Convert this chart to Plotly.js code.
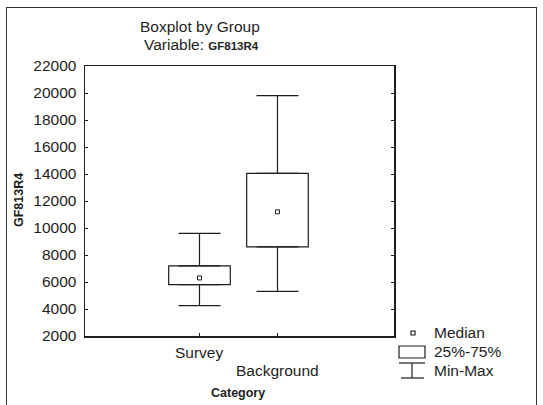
<!DOCTYPE html>
<html>
<head>
<meta charset="utf-8">
<script src="https://cdn.plot.ly/plotly-3.0.1.min.js"></script>
<style>
  html, body { margin: 0; padding: 0; background: #fff; }
  #wrap { position: relative; width: 543px; height: 405px; }
  #chart { position: absolute; left: 0; top: 0; width: 543px; height: 405px; }
  #frame { position: absolute; left: 6px; top: 7px; width: 531px; height: 410px;
           border: 1.5px solid #333; box-sizing: border-box; pointer-events: none; }
</style>
</head>
<body>
<div id="wrap">
  <div id="chart"></div>
  <div id="frame"></div>
</div>
<script>
// ---- data ----
const categories = ["Survey", "Background"];
const minVals    = [4250, 5300];
const q1Vals     = [5800, 8600];
const medianVals = [6300, 11200];
const q3Vals     = [7200, 14050];
const maxVals    = [9600, 19800];
const yTicks     = [2000, 4000, 6000, 8000, 10000, 12000, 14000, 16000, 18000, 20000, 22000];
const legendLabels = ["Median", "25%-75%", "Min-Max"];

// ---- layout geometry ----
const W = 543, H = 405;
const L = 85, R = 394, T = 66, B = 336;
const px2x = p => (p - L) / (R - L);
const py2y = p => (B - p) / (B - T);
const ink = "#1e1e1e";
const font = "Liberation Sans, Arial, sans-serif";
const FS = 15.5;

const xpos = categories.map((c, i) => i);

const traces = [
  { // boxes 25%-75%
    type: "bar", x: xpos,
    base: q1Vals,
    y: q3Vals.map((v, i) => v - q1Vals[i]),
    width: 0.79,
    marker: { color: "#ffffff", line: { color: ink, width: 1.2 } },
    hoverinfo: "skip", showlegend: false
  },
  { // upper whiskers
    type: "scatter", mode: "markers", x: xpos, y: q3Vals,
    marker: { size: 0.1, color: "rgba(0,0,0,0)" },
    error_y: { type: "data", symmetric: false,
      array: maxVals.map((v, i) => v - q3Vals[i]),
      arrayminus: q3Vals.map(() => 0),
      color: ink, thickness: 1.2, width: 21 },
    hoverinfo: "skip", showlegend: false
  },
  { // lower whiskers
    type: "scatter", mode: "markers", x: xpos, y: q1Vals,
    marker: { size: 0.1, color: "rgba(0,0,0,0)" },
    error_y: { type: "data", symmetric: false,
      array: q1Vals.map(() => 0),
      arrayminus: q1Vals.map((v, i) => v - minVals[i]),
      color: ink, thickness: 1.2, width: 21 },
    hoverinfo: "skip", showlegend: false
  },
  { // medians
    type: "scatter", mode: "markers", x: xpos, y: medianVals,
    marker: { symbol: "square-open", size: 4, color: ink, line: { width: 1, color: ink } },
    hoverinfo: "skip", showlegend: false
  }
];

function ann(text, x, y, opts) {
  return Object.assign({ text: text, xref: "paper", yref: "paper", x: x, y: y,
    xanchor: "center", yanchor: "middle", showarrow: false,
    font: { family: font, size: FS, color: ink } }, opts || {});
}

const annotations = [
  ann("Boxplot by Group", px2x(200), py2y(26)),
  ann("Variable: <span style='font-size:11.5px;font-weight:bold'>GF813R4</span>", px2x(201), py2y(44)),
  ann("GF813R4", px2x(19), py2y(200), { textangle: -90,
    font: { family: font, size: 12.5, color: ink, weight: "bold" } }),
  ann("Category", px2x(238), py2y(393), { font: { family: font, size: 12.5, color: ink, weight: "bold" } }),
  // staggered category labels
  ann(categories[0], xpos[0], py2y(352), { xref: "x" }),
  ann(categories[1], xpos[1], py2y(370), { xref: "x" }),
  // legend labels
  ann(legendLabels[0], px2x(432), py2y(332), { xanchor: "left" }),
  ann(legendLabels[1], px2x(432), py2y(351), { xanchor: "left" }),
  ann(legendLabels[2], px2x(432), py2y(370), { xanchor: "left" })
];

const lp = { color: ink, width: 1.2 };
const shapes = [
  // legend: median marker
  { type: "rect", xref: "paper", yref: "paper", x0: px2x(411), x1: px2x(415), y0: py2y(331), y1: py2y(335),
    line: lp, fillcolor: "#fff" },
  // legend: box
  { type: "rect", xref: "paper", yref: "paper", x0: px2x(399), x1: px2x(425), y0: py2y(346), y1: py2y(358),
    line: lp, fillcolor: "#fff" },
  // legend: whisker
  { type: "line", xref: "paper", yref: "paper", x0: px2x(399), x1: px2x(425), y0: py2y(363), y1: py2y(363), line: lp },
  { type: "line", xref: "paper", yref: "paper", x0: px2x(412), x1: px2x(412), y0: py2y(363), y1: py2y(378), line: lp },
  { type: "line", xref: "paper", yref: "paper", x0: px2x(401), x1: px2x(424), y0: py2y(378), y1: py2y(378), line: lp }
];

const layout = {
  width: W, height: H,
  margin: { l: L, r: W - R, t: T, b: H - B, pad: 0 },
  paper_bgcolor: "#fff", plot_bgcolor: "#fff",
  showlegend: false,
  bargap: 0,
  xaxis: {
    range: [-1.468, 2.494], tickvals: xpos, showticklabels: false,
    ticks: "inside", ticklen: 3, tickcolor: ink,
    showline: true, linecolor: ink, linewidth: 1.5, mirror: true,
    showgrid: false, zeroline: false, fixedrange: true
  },
  yaxis: {
    range: [2000, 22000], tickvals: yTicks, ticktext: yTicks.map(String),
    ticks: "inside", ticklen: 3, tickcolor: ink, mirror: "ticks",
    showline: true, linecolor: ink, linewidth: 1.5,
    showgrid: false, zeroline: false, fixedrange: true,
    ticklabelstandoff: 4,
    tickfont: { family: font, size: FS, color: ink }
  },
  annotations: annotations,
  shapes: shapes
};

Plotly.newPlot("chart", traces, layout, { staticPlot: true, displayModeBar: false });
</script>
</body>
</html>
